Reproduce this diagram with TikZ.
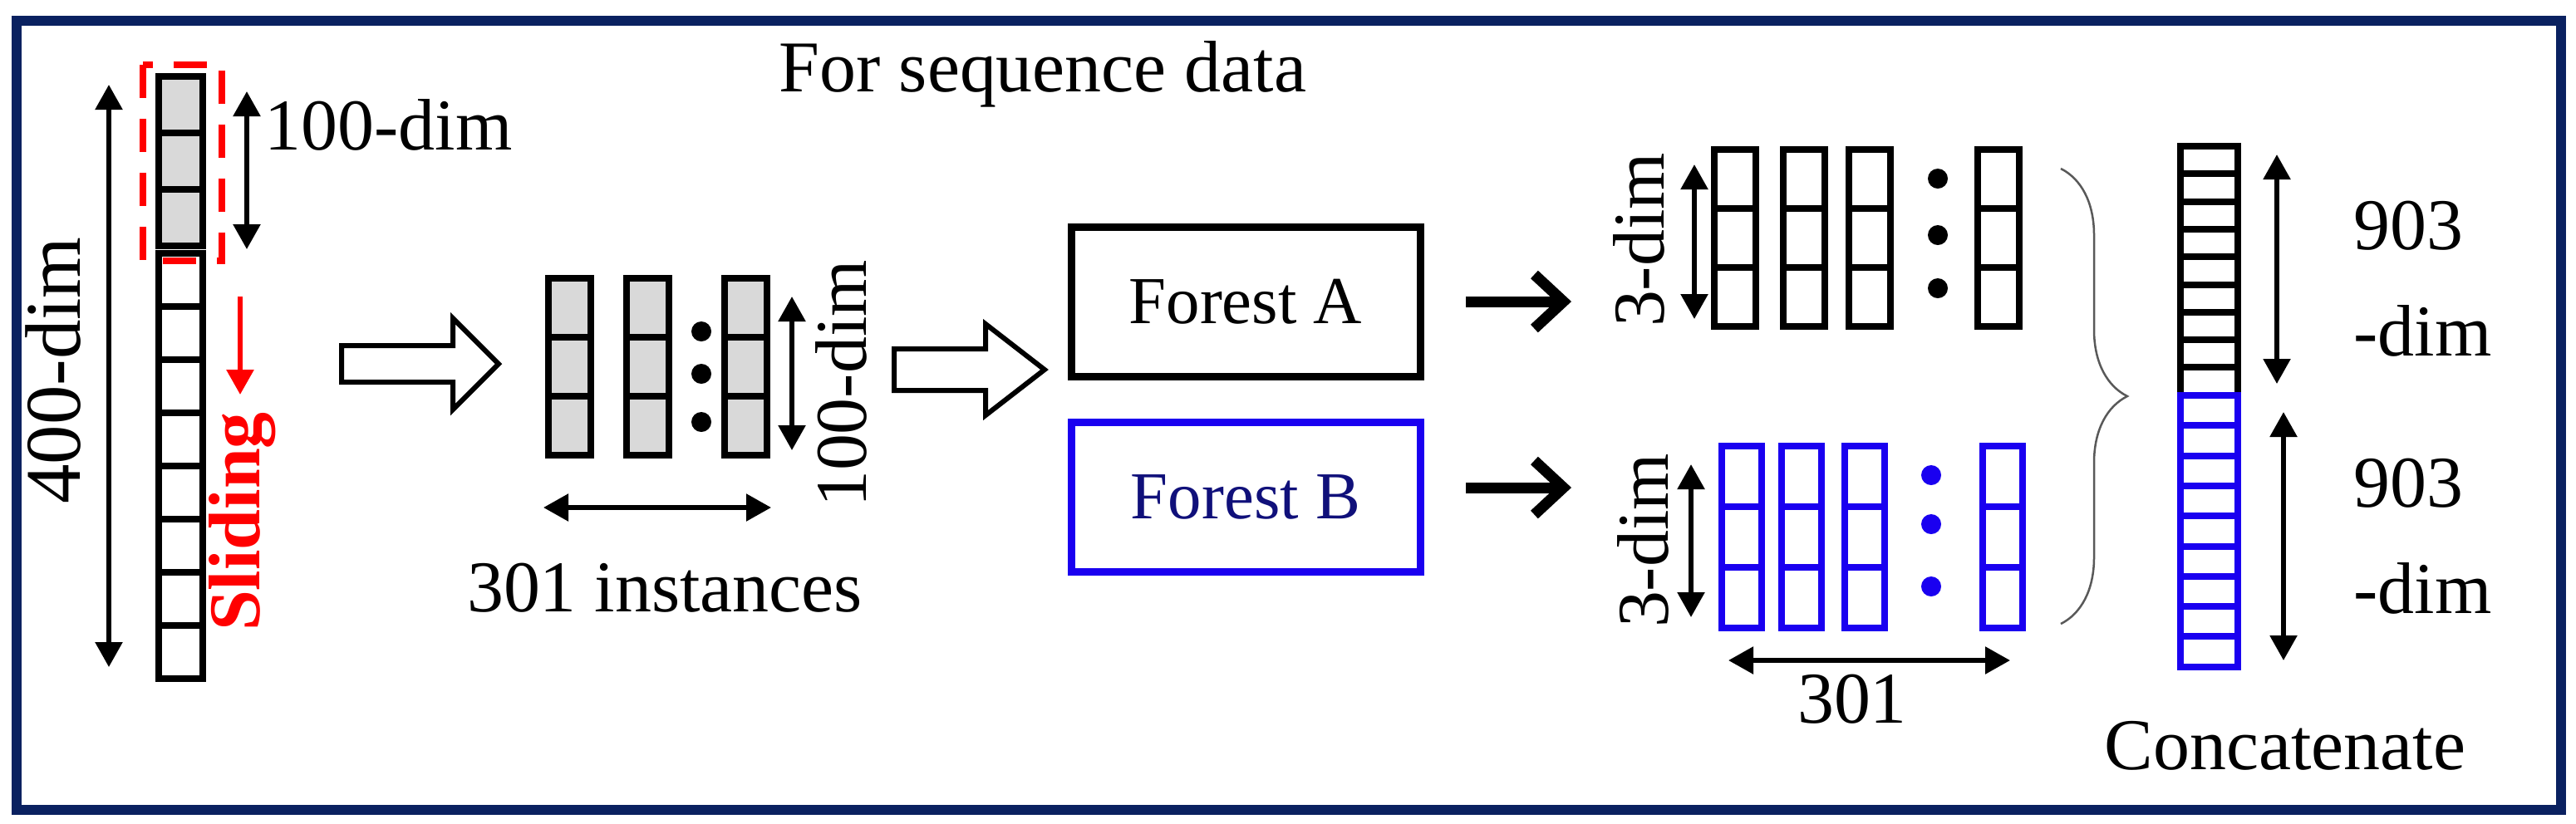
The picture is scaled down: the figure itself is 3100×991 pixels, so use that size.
\documentclass[tikz,border=0pt]{standalone}
\usepackage{fontspec}
\setmainfont{Liberation Serif}
\usetikzlibrary{calc,arrows.meta,decorations.pathreplacing}
\definecolor{framenavy}{HTML}{0A2160}
\definecolor{cellgray}{gray}{0.85}
\definecolor{outblue}{HTML}{1A00F0}
\definecolor{textblue}{HTML}{10107A}
\tikzset{
  cell/.style={line width=0.8mm},
  dimarrow/.style={line width=0.55mm,{Triangle[width=3.2mm,length=3mm]}-{Triangle[width=3.2mm,length=3mm]}},
  hollow/.style={line width=0.6mm,fill=white},
  label/.style={font=\fontsize{25}{29}\selectfont,inner sep=0pt},
  forest/.style={line width=0.9mm,minimum width=42mm,minimum height=18mm,font=\fontsize{23}{26}\selectfont}
}
\begin{document}
\begin{tikzpicture}[x=0.1mm,y=-0.1mm]
  % frame
  \useasboundingbox (0,0) rectangle (3100,991);
  \draw[framenavy,line width=1.2mm] (20,25) rectangle (3082,975);
  \node[label] (title) at (1255,89) {For sequence data};
  % input column
  \foreach \i in {0,1,2}
    \draw[cell,fill=cellgray] (191,92+68*\i) rectangle ++(53,68);
  \foreach \i in {0,...,7}
    \draw[cell] (191,305+64*\i) rectangle ++(53,64);
  \draw[red,line width=0.75mm,dashed,dash pattern=on 4mm off 2.5mm] (172,78) rectangle (267,314);
  % dimension arrows
  \coordinate (inTop) at (131,102); \coordinate (inBot) at (131,803);
  \draw[dimarrow] (inTop) -- (inBot);
  \node[label,rotate=90,font=\fontsize{27}{30}\selectfont] (inDim) at (64,446) {400-dim};
  \coordinate (winTop) at (297,110); \coordinate (winBot) at (297,300);
  \draw[dimarrow] (winTop) -- (winBot);
  \node[label,anchor=west] (winDim) at (318,150) {100-dim};
  % sliding
  \coordinate (slideTop) at (289,357); \coordinate (slideBot) at (289,475);
  \draw[red,line width=0.6mm,-{Triangle[width=3.2mm,length=3mm]}] (slideTop) -- (slideBot);
  \node[label,red,rotate=90,font=\fontsize{25}{29}\selectfont\bfseries] (slide) at (292,628) {Sliding};
  % hollow arrow 1
  \draw[hollow] (411,416) -- (545,416) -- (545,383) -- (600,438) -- (545,493) -- (545,460) -- (411,460) -- cycle;
  % instances
  \foreach \x in {660,754,872}
    \foreach \i in {0,1,2}
      \draw[cell,fill=cellgray] (\x,335+71*\i) rectangle ++(51,71);
  \foreach \y in {399,450,508}
    \fill (844,\y) circle (12);
  \coordinate (instTop) at (953,357); \coordinate (instBot) at (953,542);
  \draw[dimarrow] (instTop) -- (instBot);
  \node[label,rotate=90] (instDim) at (1012,462) {100-dim};
  \coordinate (instL) at (654,611); \coordinate (instR) at (928,611);
  \draw[dimarrow] (instL) -- (instR);
  \node[label] (inst) at (800,708) {301 instances};
  % hollow arrow 2
  \draw[hollow] (1076,420) -- (1186,420) -- (1186,390) -- (1257,445) -- (1186,500) -- (1186,470) -- (1076,470) -- cycle;
  % forests
  \node[forest,draw=black] (forestA) at (1499,363) {Forest A};
  \node[forest,draw=outblue,text=textblue] (forestB) at (1499,598) {Forest B};
  \coordinate (outA) at (1891,363); \coordinate (outB) at (1891,587);
  \draw[line width=1.3mm,-{Straight Barb[width=6.5mm,length=3.5mm]}] (1764,363) -- (outA);
  \draw[line width=1.3mm,-{Straight Barb[width=6.5mm,length=3.5mm]}] (1764,587) -- (outB);
  % outputs of forest A
  \foreach \x in {2063,2146,2225,2380}
    \foreach \i in {0,1,2}
      \draw[cell] (\x,180+71*\i) rectangle ++(50,71);
  \foreach \y in {215,283,347}
    \fill (2332,\y) circle (12);
  \coordinate (aTop) at (2039,198); \coordinate (aBot) at (2039,384);
  \draw[dimarrow] (aTop) -- (aBot);
  \node[label,rotate=90] (aDim) at (1972,289) {3-dim};
  % outputs of forest B
  \foreach \x in {2072,2144,2220,2386}
    \foreach \i in {0,1,2}
      \draw[cell,outblue] (\x,537+73*\i) rectangle ++(48,73);
  \foreach \y in {572,631,706}
    \fill[outblue] (2324,\y) circle (12);
  \coordinate (bTop) at (2035,559); \coordinate (bBot) at (2035,743);
  \draw[dimarrow] (bTop) -- (bBot);
  \node[label,rotate=90] (bDim) at (1977,651) {3-dim};
  \coordinate (bL) at (2080,795); \coordinate (bR) at (2419,795);
  \draw[dimarrow] (bL) -- (bR);
  \node[label] (bCount) at (2229,842) {301};
  % brace
  \draw[gray!70!black,line width=0.25mm,decorate,decoration={brace,amplitude=8mm}] (2480,203) -- (2480,751);
  % concatenated column
  \foreach \i in {0,...,8}
    \draw[cell] (2624,176+33.3*\i) rectangle ++(69,33.3);
  \foreach \i in {0,...,8}
    \draw[cell,outblue] (2624,476+36.3*\i) rectangle ++(69,36.3);
  \coordinate (cTop) at (2740,186); \coordinate (cMid) at (2740,462);
  \draw[dimarrow] (cTop) -- (cMid);
  \coordinate (dTop) at (2748,496); \coordinate (dBot) at (2748,795);
  \draw[dimarrow] (dTop) -- (dBot);
  \node[label,anchor=west] (cNum) at (2832,272) {903};
  \node[label,anchor=west] (cUnit) at (2832,398) {-dim};
  \node[label,anchor=west] (dNum) at (2832,582) {903};
  \node[label,anchor=west] (dUnit) at (2832,708) {-dim};
  \node[label] (concat) at (2750,898) {Concatenate};
\end{tikzpicture}
\end{document}
